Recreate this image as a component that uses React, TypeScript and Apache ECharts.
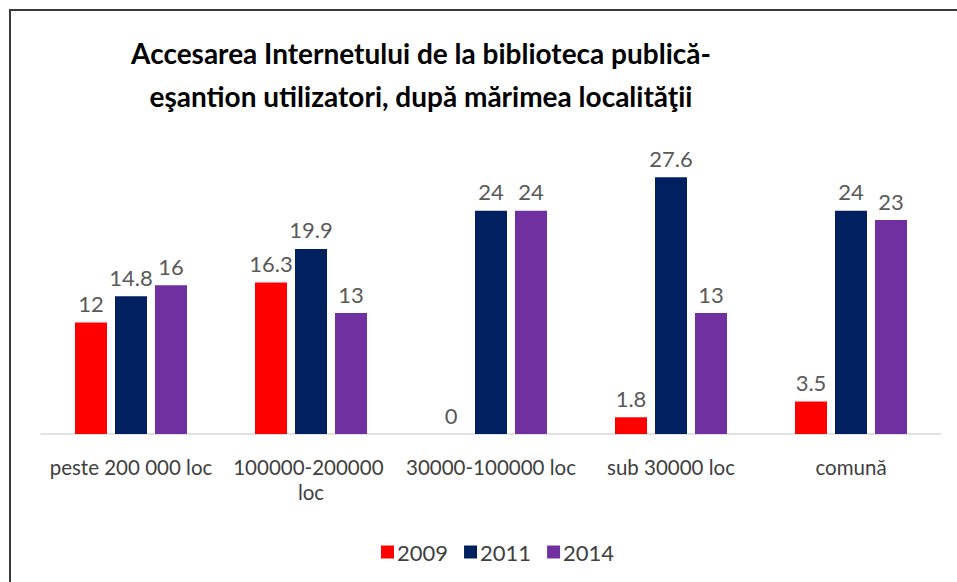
import React, { useEffect, useRef } from "react";
import * as echarts from "echarts";

const categories = ["peste 200 000 loc", "100000-200000 loc", "30000-100000 loc", "sub 30000 loc", "comună"];
const seriesNames = ["2009", "2011", "2014"];
const values2009 = [12, 16.3, 0, 1.8, 3.5];
const values2011 = [14.8, 19.9, 24, 27.6, 24];
const values2014 = [16, 13, 24, 13, 23];
const colors = ["#ff0000", "#002060", "#7030a0"];
const titleText = "Accesarea Internetului de la biblioteca publică-\neşantion utilizatori, după mărimea localităţii";

export default function App() {
  const ref = useRef<HTMLDivElement>(null);
  useEffect(() => {
    if (!ref.current) return;
    const chart = echarts.init(ref.current, null, { renderer: "svg" });
    const font = "Lato";
    const data = [values2009, values2011, values2014];
    chart.setOption({
      animation: false,
      backgroundColor: "#ffffff",
      title: {
        text: titleText,
        left: 416,
        top: 26,
        textAlign: "center",
        textStyle: { fontFamily: font, fontWeight: "bold", fontSize: 28, color: "#000000", lineHeight: 43 },
      },
      legend: {
        data: seriesNames,
        left: 376,
        top: 536,
        itemWidth: 13,
        itemHeight: 13,
        itemGap: 16,
        icon: "rect",
        textStyle: { fontFamily: font, fontSize: 22, color: "#404040", padding: [0, 0, 0, -2] },
      },
      grid: { left: 41, right: 16, top: 155, bottom: 148, containLabel: false },
      xAxis: {
        type: "category",
        data: categories,
        axisLine: { show: true, lineStyle: { color: "#d9d9d9", width: 1.5 } },
        axisTick: { show: false },
        axisLabel: {
          fontFamily: font,
          fontSize: 20.5,
          color: "#404040",
          margin: 20,
          width: 180,
          overflow: "break",
          lineHeight: 25,
          interval: 0,
        },
      },
      yAxis: {
        type: "value",
        min: 0,
        max: 30,
        interval: 5,
        show: false,
        splitLine: { show: false },
      },
      series: seriesNames.map((name, i) => ({
        name,
        type: "bar",
        data: data[i],
        barWidth: 32,
        barGap: "25%",
        itemStyle: { color: colors[i] },
        label: {
          show: true,
          position: "top",
          distance: 8,
          fontFamily: font,
          fontSize: 22,
          color: "#595959",
        },
      })),
      graphic: [
        {
          type: "rect",
          shape: { x: 10, y: 10, width: 960, height: 600 },
          style: { fill: "none", stroke: "#3a3a3a", lineWidth: 2 },
          silent: true,
          z: 100,
        },
      ],
    });
    return () => chart.dispose();
  }, []);
  return (
    <div
      ref={ref}
      style={{ position: "fixed", left: 0, top: 0, width: 957, height: 582 }}
    />
  );
}
